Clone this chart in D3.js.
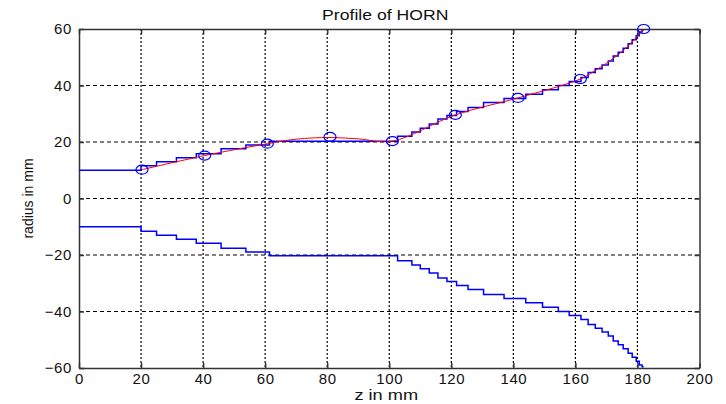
<!DOCTYPE html>
<html>
<head>
<meta charset="utf-8">
<script src="https://cdn.jsdelivr.net/npm/d3@7"></script>
<style>
  body { margin: 0; background: #fff; }
  svg { display: block; font-family: "Liberation Sans", Arial, sans-serif; }
</style>
</head>
<body>
<div id="chart"></div>
<script>
// ----- data -----
// stepped wall of the horn (lower half, the upper half is its mirror)
const stepZ = [0, 20, 25, 31.4, 37.8, 45.8, 53.8, 61.4, 102.7, 107.3, 110, 112.9, 115.7, 118.6,
  121.7, 125.4, 130.4, 137, 144, 149.4, 154.5, 158, 161.8, 164.1, 166.4, 168.6, 170.6, 172.2,
  173.8, 175.4, 177, 178.3, 179.6, 180.6, 181.5, 182];
const stepR = [10, 11.6, 13, 14.4, 15.8, 17.6, 18.9, 20.3, 22, 23.5, 24.9, 26.4, 28.1, 29.4,
  30.8, 32.2, 34, 35.4, 36.9, 38.5, 40, 41.4, 42.8, 44.6, 45.9, 47.3, 48.7, 50.4,
  51.8, 53.2, 54.8, 56.2, 57.6, 58.9, 59.6, 59.6];

// design points (circles)
const markerZ = [20.3, 40.5, 60.7, 80.9, 101, 121.3, 141.5, 161.6, 182];
const markerR = [10.2, 15.2, 19.4, 21.8, 20.3, 29.6, 35.6, 42.3, 60];

// smooth profile (red)
const curveZ = [20.3, 40.5, 60.7, 70, 80.9, 90, 101, 121.3, 141.5, 161.6, 166.4, 172.2, 177, 182];
const curveR = [10.2, 15.2, 19.4, 21, 21.6, 21.1, 20.3, 29.6, 35.6, 42.3, 45.3, 49.6, 54, 60];

const xTicks = [0, 20, 40, 60, 80, 100, 120, 140, 160, 180, 200];
const yTicks = [-60, -40, -20, 0, 20, 40, 60];

// ----- layout -----
const W = 726, H = 404;
const margin = { top: 29, right: 26.5, bottom: 36, left: 79 };
const width = W - margin.left - margin.right;
const height = H - margin.top - margin.bottom;

const svgRoot = d3.select("#chart")
    .append("svg")
    .attr("width", W)
    .attr("height", H);

const svg = svgRoot.append("g")
    .attr("transform", `translate(${margin.left}, ${margin.top})`);

const x = d3.scaleLinear().domain([0, 200]).range([0, width]);
const y = d3.scaleLinear().domain([-60, 60]).range([height, 0]);

// grid lines
svg.append("g")
    .selectAll("line")
    .data(xTicks.slice(1, -1))
    .enter()
    .append("line")
    .attr("x1", d => x(d)).attr("x2", d => x(d))
    .attr("y1", 0).attr("y2", height)
    .attr("stroke", "#000")
    .attr("stroke-width", 1.2)
    .attr("stroke-dasharray", "2,2");

svg.append("g")
    .selectAll("line")
    .data(yTicks.slice(1, -1))
    .enter()
    .append("line")
    .attr("x1", 0).attr("x2", width)
    .attr("y1", d => y(d)).attr("y2", d => y(d))
    .attr("stroke", "#000")
    .attr("stroke-width", 1)
    .attr("stroke-dasharray", "4,3");

// axes, matlab style: ticks pointing inwards on all four sides
const axisColor = "#333";
function styleAxis(g) {
    g.selectAll("path").attr("stroke", axisColor).attr("stroke-width", 1.5);
    g.selectAll("line").attr("stroke", axisColor).attr("stroke-width", 1.5);
    g.selectAll("text")
        .attr("fill", "#111")
        .style("font-size", "15px")
        .style("letter-spacing", "0.6px");
}

svg.append("g")
    .attr("transform", `translate(0, ${height})`)
    .call(d3.axisBottom(x).tickValues(xTicks).tickSize(-5).tickSizeOuter(0).tickPadding(5))
    .call(styleAxis);

svg.append("g")
    .call(d3.axisLeft(y).tickValues(yTicks).tickSize(-5).tickSizeOuter(0).tickPadding(7))
    .call(styleAxis);

svg.append("g")
    .call(d3.axisTop(x).tickValues(xTicks).tickSize(-5).tickSizeOuter(0).tickFormat(""))
    .call(styleAxis);

svg.append("g")
    .attr("transform", `translate(${width}, 0)`)
    .call(d3.axisRight(y).tickValues(yTicks).tickSize(-5).tickSizeOuter(0).tickFormat(""))
    .call(styleAxis);

// stepped walls
const upper = stepZ.map((z, i) => [z, stepR[i]]);
const lower = stepZ.map((z, i) => [z, -stepR[i]]);

const stepLine = d3.line()
    .x(d => x(d[0]))
    .y(d => y(d[1]))
    .curve(d3.curveStepAfter);

[upper, lower].forEach(function (pts) {
    svg.append("path")
        .datum(pts)
        .attr("fill", "none")
        .attr("stroke", "#0000ff")
        .attr("stroke-width", 1.5)
        .attr("d", stepLine);
});

// smooth profile
const curvePts = curveZ.map((z, i) => [z, curveR[i]]);
svg.append("path")
    .datum(curvePts)
    .attr("fill", "none")
    .attr("stroke", "#ff0000")
    .attr("stroke-width", 1)
    .attr("d", d3.line()
        .x(d => x(d[0]))
        .y(d => y(d[1]))
        .curve(d3.curveCatmullRom));

// design points
svg.append("g")
    .selectAll("ellipse")
    .data(markerZ.map((z, i) => [z, markerR[i]]))
    .enter()
    .append("ellipse")
    .attr("cx", d => x(d[0]))
    .attr("cy", d => y(d[1]))
    .attr("rx", 6)
    .attr("ry", 4.5)
    .attr("fill", "none")
    .attr("stroke", "#0000ff")
    .attr("stroke-width", 1.2);

// title and axis labels
svgRoot.append("text")
    .attr("transform", `translate(${margin.left + width / 2 - 4}, 19.5) scale(1.26, 1)`)
    .attr("text-anchor", "middle")
    .style("font-size", "14px")
    .attr("fill", "#111")
    .text("Profile of HORN");

svgRoot.append("text")
    .attr("transform", `translate(${margin.left + width / 2 - 3}, 399.5) scale(1.3, 1)`)
    .attr("text-anchor", "middle")
    .style("font-size", "14px")
    .attr("fill", "#111")
    .text("z in mm");

svgRoot.append("text")
    .attr("transform", `translate(33, ${margin.top + height / 2}) rotate(-90)`)
    .attr("text-anchor", "middle")
    .style("font-size", "14px")
    .attr("fill", "#111")
    .text("radius in mm");
</script>
</body>
</html>
